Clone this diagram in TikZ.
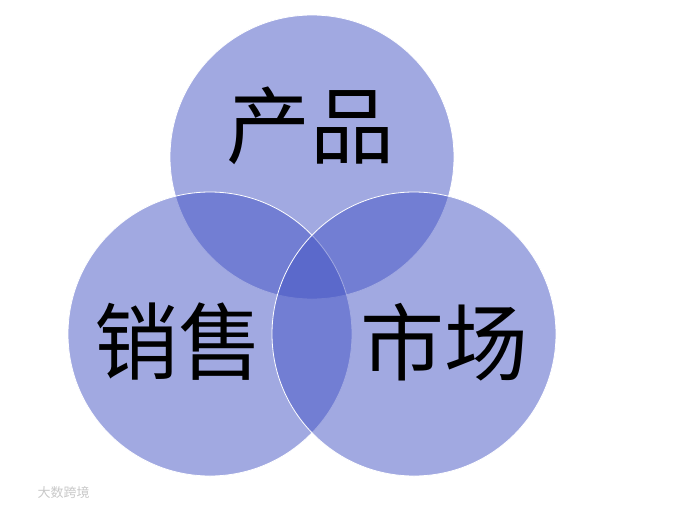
\documentclass[tikz,border=0pt]{standalone}
\usepackage{fontspec}
\usepackage{tikz}
\usetikzlibrary{positioning}
\newfontfamily\cjk{Noto Sans CJK SC}
\definecolor{bleu}{RGB}{68,84,196}
\definecolor{gris}{HTML}{C8C8C8}

\begin{document}
\begin{tikzpicture}[x=1pt,y=-1pt,
    rond/.style={circle,minimum size=284pt,inner sep=0pt,fill=bleu,fill opacity=0.5,draw=white,line width=0.8pt},
    mot/.style={font=\cjk\fontsize{84}{86}\selectfont,text=black}]
  \useasboundingbox (0,0) rectangle (683,509);
  % les trois cercles
  \node[rond] (chanpin) at (312,157) {};
  \node[rond] (xiaoshou) at (210,334) {};
  \node[rond] (shichang) at (414,334) {};
  % les textes
  \node[mot] (tchanpin) at (310,126) {产品};
  \node[mot] (txiaoshou) at (178,342) {销售};
  \node[mot] (tshichang) at (444,342) {市场};
  \node[font=\cjk\fontsize{13}{14}\selectfont,text=gris,anchor=west] (marque) at (34,493) {大数跨境};
\end{tikzpicture}
\end{document}
